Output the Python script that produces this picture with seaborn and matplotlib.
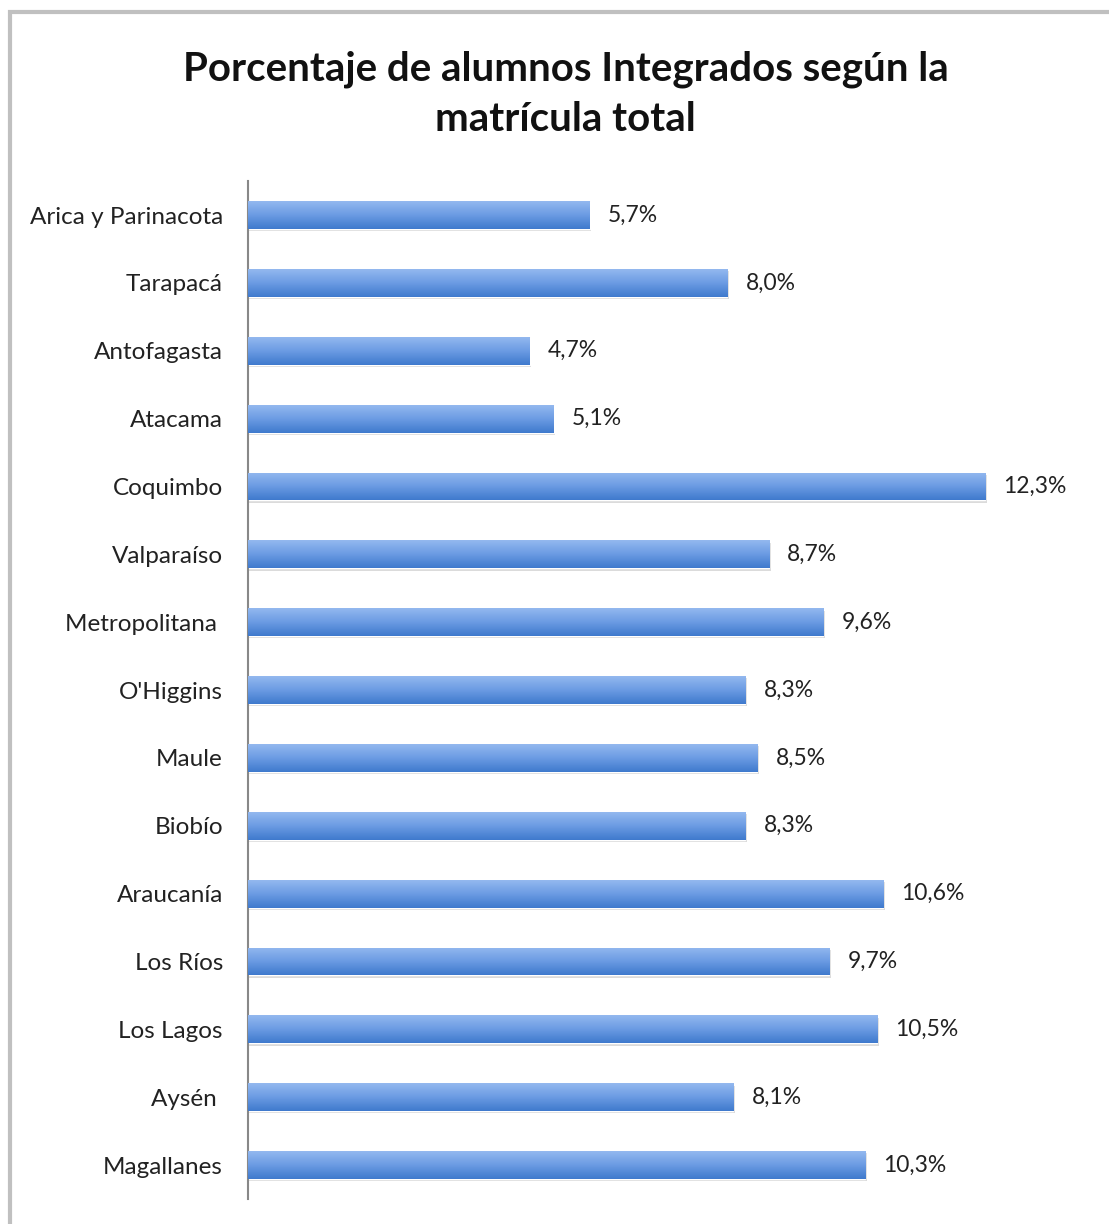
import numpy as np
import pandas as pd
import matplotlib
matplotlib.use('Agg')
import matplotlib.pyplot as plt
import seaborn as sns
from matplotlib.colors import LinearSegmentedColormap
from matplotlib.patches import Rectangle

sns.set_theme(style='white')
plt.rcParams['font.family'] = ['Lato', 'DejaVu Sans']

regiones = ['Arica y Parinacota', 'Tarapacá', 'Antofagasta', 'Atacama', 'Coquimbo',
            'Valparaíso', 'Metropolitana ', "O'Higgins", 'Maule', 'Biobío',
            'Araucanía', 'Los Ríos', 'Los Lagos', 'Aysén ', 'Magallanes']
porcentajes = [5.7, 8.0, 4.7, 5.1, 12.3, 8.7, 9.6, 8.3, 8.5, 8.3, 10.6, 9.7, 10.5, 8.1, 10.3]
titulo = 'Porcentaje de alumnos Integrados según la\nmatrícula total'

df = pd.DataFrame({'Region': regiones, 'Porcentaje': porcentajes})

fig = plt.figure(figsize=(11.09, 12.24), dpi=100)
ax = fig.add_axes([0.2236, 0.0204, 0.7566, 0.8316])

sns.barplot(data=df, y='Region', x='Porcentaje', orient='h', color='#5b8fdc',
            width=0.41, ax=ax)
ax.set_xlim(0, 14)

# degradado tipo Excel en cada barra
cmap = LinearSegmentedColormap.from_list('excel', ['#93b8ef', '#6b9be3', '#3f7acd'])
grad = np.linspace(0, 1, 64).reshape(-1, 1)
for p in list(ax.patches):
    x0, y0 = p.get_x(), p.get_y()
    w, h = p.get_width(), p.get_height()
    # sombra
    ax.add_patch(Rectangle((x0, y0 + h * 0.08), w + 0.03, h, color='#b8b8b8',
                           alpha=0.5, zorder=1, lw=0))
    p.set_zorder(2)
    im = ax.imshow(grad, cmap=cmap, aspect='auto', extent=(x0, x0 + w, y0 + h, y0),
                   zorder=3, interpolation='bilinear')
    im.set_clip_path(p)

for i, v in enumerate(porcentajes):
    ax.text(v + 0.3, i, f'{v:.1f}%'.replace('.', ','), va='center', ha='left',
            fontsize=16.5, color='#222222')

ax.set_ylim(len(regiones) - 0.5, -0.5)
ax.set_xlabel('')
ax.set_ylabel('')
ax.set_xticks([])
ax.tick_params(axis='y', labelsize=17.5, labelcolor='#222222', length=0, pad=18)
for s in ['top', 'right', 'bottom']:
    ax.spines[s].set_visible(False)
ax.spines['left'].set_color('#888888')
ax.spines['left'].set_linewidth(1.5)
ax.grid(False)

fig.text(0.51, 0.923, titulo, ha='center', va='center', fontsize=29,
         fontweight='bold', color='#111111', linespacing=1.45)

# marco gris del gráfico
fig.add_artist(Rectangle((0.009, -0.05), 1.05, 1.04, transform=fig.transFigure,
                         fill=False, edgecolor='#c0c0c0', lw=3))

fig.savefig('out.png', dpi=100)
